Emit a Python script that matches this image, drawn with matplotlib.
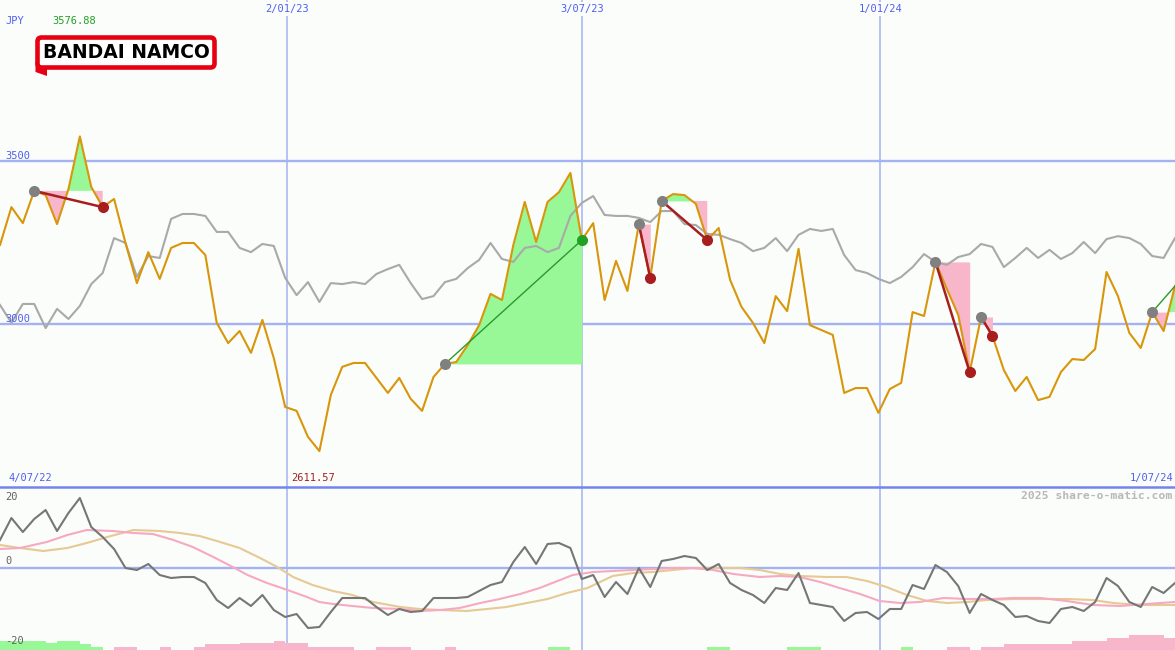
import numpy as np
import matplotlib
matplotlib.use('Agg')
import matplotlib.pyplot as plt
from matplotlib.patches import FancyBboxPatch, Polygon
from matplotlib.transforms import blended_transform_factory

W, H = 1175, 650

# weekly closes, index 0 = 4/07/22
price = [3244, 3360, 3311, 3410, 3397, 3308, 3415, 3576.88, 3422, 3360,
         3385, 3250, 3127, 3222, 3140, 3235, 3250, 3250, 3213, 3005,
         2943, 2980, 2913, 3014, 2897, 2747, 2735, 2655, 2611.57, 2784,
         2870, 2882, 2882, 2836, 2790, 2836, 2772, 2735, 2839, 2879,
         2885, 2937, 2998, 3094, 3075, 3244, 3376, 3253, 3376, 3406,
         3465, 3259, 3311, 3075, 3195, 3103, 3308, 3143, 3379, 3400,
         3397, 3370, 3259, 3296, 3137, 3054, 3005, 2943, 3087, 3041,
         3232, 2998, 2983, 2968, 2790, 2805, 2805, 2729, 2802, 2821,
         3038, 3026, 3192, 3109, 3029, 2854, 3023, 2965, 2860, 2796,
         2839, 2768, 2778, 2854, 2894, 2891, 2925, 3161, 3087, 2974,
         2928, 3038, 2980, 3118]

# comparison index (grey line), drawn on the price scale
rel = [3060, 3005, 3063, 3063, 2989, 3048, 3017, 3057, 3124, 3158,
       3265, 3250, 3146, 3210, 3204, 3324, 3339, 3339, 3333, 3284,
       3284, 3235, 3222, 3247, 3241, 3143, 3090, 3130, 3069, 3127,
       3124, 3130, 3124, 3155, 3170, 3183, 3127, 3078, 3087, 3130,
       3140, 3173, 3198, 3250, 3201, 3192, 3235, 3241, 3222, 3235,
       3333, 3373, 3394, 3336, 3333, 3333, 3327, 3314, 3348, 3348,
       3308, 3305, 3278, 3275, 3262, 3250, 3225, 3235, 3265, 3225,
       3275, 3293, 3287, 3293, 3213, 3167, 3158, 3140, 3127, 3146,
       3176, 3216, 3192, 3183, 3207, 3216, 3247, 3238, 3176, 3204,
       3235, 3204, 3229, 3201, 3219, 3253, 3219, 3262, 3271, 3265,
       3247, 3210, 3204, 3265]

# oscillator panel
mom = [7, 12.5, 9, 12.25, 14.5, 9.25, 13.75, 17.5, 10.25, 7.75,
       4.75, 0, -0.5, 1, -1.75, -2.5, -2.25, -2.25, -3.75, -8,
       -10, -7.5, -9.5, -6.75, -10.5, -12.25, -11.5, -15, -14.75, -11,
       -7.5, -7.5, -7.5, -9.75, -11.75, -10.25, -11, -10.75, -7.5, -7.5,
       -7.5, -7.25, -5.75, -4.25, -3.5, 1.5, 5.25, 1, 6, 6.25,
       5, -2.75, -1.75, -7.25, -3.5, -6.5, 0, -4.75, 1.75, 2.25,
       3, 2.5, -0.5, 1, -3.75, -5.5, -6.75, -8.75, -5, -5.5,
       -1.25, -8.75, -9.25, -9.75, -13.25, -11.25, -11, -12.75, -10.25, -10.25,
       -4.25, -5.25, 0.75, -1, -4.5, -11.25, -6.5, -8, -9.25, -12.25,
       -12, -13.25, -13.75, -10.25, -9.75, -10.75, -8.5, -2.5, -4.5, -8.5,
       -9.75, -4.75, -6.25, -3.75]

pink_x = [0, 1.75, 4.1, 5.9, 7.6, 9.9, 11.7, 13.4, 15.2, 16.9,
          18.7, 20.4, 21.7, 23.4, 25.2, 26.9, 28.0, 29.2, 30.9, 32.7,
          35.1, 36.8, 38.6, 40.3, 42.1, 43.8, 45.6, 47.3, 49.1, 50.2,
          52.0, 53.7, 55.5, 57.2, 59.0, 60.7, 62.5, 64.3, 66.6, 68.4,
          70.1, 71.9, 73.6, 75.4, 77.1, 78.9, 80.6, 82.7, 84.8, 87.0,
          88.8, 91.2, 93.5, 95.8, 98.2, 100.5, 103]
pink_y = [4.75, 5, 6.5, 8.25, 9.5, 9.25, 8.75, 8.5, 7, 5.25,
          2.75, 0.25, -1.75, -3.75, -5.5, -7.25, -8.5, -9, -9.5, -10,
          -10.25, -10.75, -10.5, -10, -8.75, -7.75, -6.5, -5, -3, -1.75,
          -1, -0.75, -0.5, -0.25, 0, 0, -0.5, -1.5, -2.25, -2,
          -2.25, -3.5, -5, -6.5, -8.25, -8.75, -8.5, -7.5, -7.75, -7.75,
          -7.5, -7.5, -8.25, -9.25, -9.5, -9, -8.5]

tan_x = [0, 1.75, 3.8, 5.9, 7.6, 9.4, 11.7, 14.0, 15.8, 17.5,
         19.3, 21.0, 22.8, 24.3, 25.7, 27.4, 29.2, 30.9, 32.7, 35.1,
         36.8, 38.6, 40.9, 42.7, 44.4, 46.2, 48.0, 49.7, 51.5, 52.6,
         53.7, 55.5, 57.2, 59.0, 60.7, 62.5, 64.9, 66.6, 68.4, 70.1,
         72.5, 74.2, 76.0, 77.7, 79.5, 81.3, 83.0, 84.8, 86.5, 88.8,
         91.2, 93.5, 95.8, 97.6, 99.9, 103]
tan_y = [5.75, 5, 4.25, 5, 6.25, 7.75, 9.5, 9.25, 8.75, 8,
         6.5, 5, 2.5, 0.25, -2.25, -4.25, -5.75, -6.75, -8.5, -9.75,
         -10.25, -10.5, -10.75, -10.25, -9.75, -8.75, -7.75, -6.25, -5, -3.5,
         -2, -1.25, -1, -0.5, 0, 0, 0, -0.5, -1.5, -2,
         -2.25, -2.25, -3.25, -4.75, -6.75, -8.25, -8.75, -8.5, -8, -7.75,
         -7.75, -7.75, -8, -8.75, -9.25, -9.25]

hist = [2.25, 2.25, 2.25, 2.25, 1.75, 2.25, 2.25, 1.5, 0.75, 0,
        -0.75, -0.75, 0, 0, -0.75, 0, 0, -0.75, -1.5, -1.5,
        -1.5, -1.75, -1.75, -1.75, -2.25, -1.75, -1.75, -0.75, -0.75, -0.75,
        -0.75, 0, 0, -0.75, -0.75, -0.75, 0, 0, 0, -0.75,
        0, 0, 0, 0, 0, 0, 0, 0, 0.75, 0.75,
        0, 0, 0, 0, 0, 0, 0, 0, 0, 0,
        0, 0, 0.75, 0.75, 0, 0, 0, 0, 0, 0.75,
        0.75, 0.75, 0, 0, 0, 0, 0, 0, 0, 0.75,
        0, 0, 0, -0.75, -0.75, 0, -0.75, -0.75, -1.5, -1.5,
        -1.5, -1.5, -1.5, -1.5, -2.25, -2.25, -2.25, -3, -3, -3.75,
        -3.75, -3.75, -3, -3]

# swing signals (start index, end index)
sig_start = [3, 39, 56, 58, 82, 86, 101]
sig_end = [9, 51, 57, 62, 85, 87, 103]
sig_up = [False, True, False, False, False, False, True]
sig_closed = [True, True, True, True, True, True, False]

vline_pos = [25.15, 51.0, 77.15]
vline_labels = ['2/01/23', '3/07/23', '1/01/24']
first_date, last_date = '4/07/22', '1/07/24'
price_ticks = [3500, 3000]
osc_ticks = [20, 0, -20]

# colours
BG = '#fbfdfb'
GRID = '#a4b2f2'
SEP = '#7484ee'
ORANGE = '#d8960a'
BLUE_TXT = '#4f5ff0'
FILL_G = '#98f898'
FILL_P = '#f8b6ca'
RED = '#a81e1e'
MONO = 'DejaVu Sans Mono'

x = np.arange(len(price))
p = np.array(price, dtype=float)
n_last = len(price) - 1

fig = plt.figure(figsize=(W / 100, H / 100), dpi=100, facecolor=BG)
ax = fig.add_axes([0, 163 / H, 1, 487 / H])
ax2 = fig.add_axes([0, 0, 1, 163 / H])
for a in (ax, ax2):
    a.set_axis_off()
    a.set_xlim(0, n_last)
    for v in vline_pos:
        a.axvline(v, color=GRID, lw=1.1, zorder=0)
ax.set_ylim(2501.5, 3995.4)
ax2.set_ylim(-20.5, 20.25)

# price panel
for t in price_ticks:
    ax.axhline(t, color=GRID, lw=1.7, zorder=0)
    ax.text(0.45, t + 2, str(t), color=BLUE_TXT, fontsize=7.5, family=MONO,
            va='bottom', ha='left', zorder=6)

for s, e in zip(sig_start, sig_end):
    xs = x[s:e + 1]
    ps = p[s:e + 1]
    lvl = p[s]
    ax.fill_between(xs, ps, lvl, where=ps >= lvl, interpolate=True, color=FILL_G, lw=0, zorder=1)
    ax.fill_between(xs, ps, lvl, where=ps <= lvl, interpolate=True, color=FILL_P, lw=0, zorder=1)

ax.plot(x, rel, color='#a9a9a9', lw=1.5, zorder=2)
ax.plot(x, p, color=ORANGE, lw=1.5, zorder=3)

for s, e, up, closed in zip(sig_start, sig_end, sig_up, sig_closed):
    col = '#2a9a2a' if up else RED
    ax.plot([s, e], [p[s], p[e]], color=col, lw=1.0 if up else 1.8, zorder=4)
    ax.plot(s, p[s], 'o', ms=8, color='#808080', mec='none', zorder=5)
    if closed:
        ax.plot(e, p[e], 'o', ms=8, color='#22a022' if up else RED, mec='none', zorder=5)

# oscillator panel
ax2.axhline(0, color=GRID, lw=1.7, zorder=0)
h = np.array(hist)
ax2.bar(x, np.abs(h), width=1.0, align='edge', bottom=-20.5,
        color=np.where(h > 0, FILL_G, FILL_P), lw=0, zorder=1)
ax2.plot(tan_x, tan_y, color='#e6c994', lw=1.5, zorder=2)
ax2.plot(pink_x, pink_y, color='#f6a9c1', lw=1.5, zorder=2)
ax2.plot(x, mom, color='#767676', lw=1.5, zorder=3)
for t in osc_ticks:
    ax2.text(0.45, t - 1 if t == 20 else t + 0.4, str(t), color='#606060', fontsize=7.5,
             family=MONO, va='top' if t == 20 else 'bottom', ha='left', zorder=6)

# overlay in pixel coordinates
ov = fig.add_axes([0, 0, 1, 1])
ov.set_axis_off()
ov.patch.set_alpha(0)
ov.set_xlim(0, W)
ov.set_ylim(H, 0)
ov.axhline(487, color=SEP, lw=1.8)

tr = blended_transform_factory(ax.transData, ov.transData)
for v, lab in zip(vline_pos, vline_labels):
    ov.text(v, 9, lab, transform=tr, ha='center', va='center', color=BLUE_TXT,
            fontsize=7.5, family=MONO,
            bbox=dict(boxstyle='square,pad=0.15', fc=BG, ec='none'))

ov.text(5, 21, 'JPY', color=BLUE_TXT, fontsize=7.5, family=MONO, va='center')
ov.text(52, 21, f'{p.max():.2f}', color='#22a022', fontsize=7.5, family=MONO, va='center')
ov.text(291, 478, f'{p.min():.2f}', color='#a02020', fontsize=7.5, family=MONO, va='center')
ov.text(8, 478, first_date, color=BLUE_TXT, fontsize=7.5, family=MONO, va='center')
ov.text(1173, 478, last_date, color=BLUE_TXT, fontsize=7.5, family=MONO, va='center', ha='right')
ov.text(1172, 496, '2025 share-o-matic.com', color='#b8b8b8', fontsize=8.2, family=MONO,
        weight='bold', va='center', ha='right')

# logo
ov.add_patch(Polygon([(35.5, 62), (35.5, 72), (47, 76), (47, 66)], closed=True,
                     fc='#e60012', ec='none', zorder=5))
ov.add_patch(FancyBboxPatch((37.5, 37.5), 177, 30, boxstyle='round,pad=0,rounding_size=4',
                            fc='white', ec='#e60012', lw=3.3, zorder=6))
ov.text(126, 53, 'BANDAI NAMCO', ha='center', va='center', fontsize=13.5, weight='bold',
        color='black', family='DejaVu Sans', zorder=7)

fig.savefig('out.png', dpi=100, facecolor=BG)
